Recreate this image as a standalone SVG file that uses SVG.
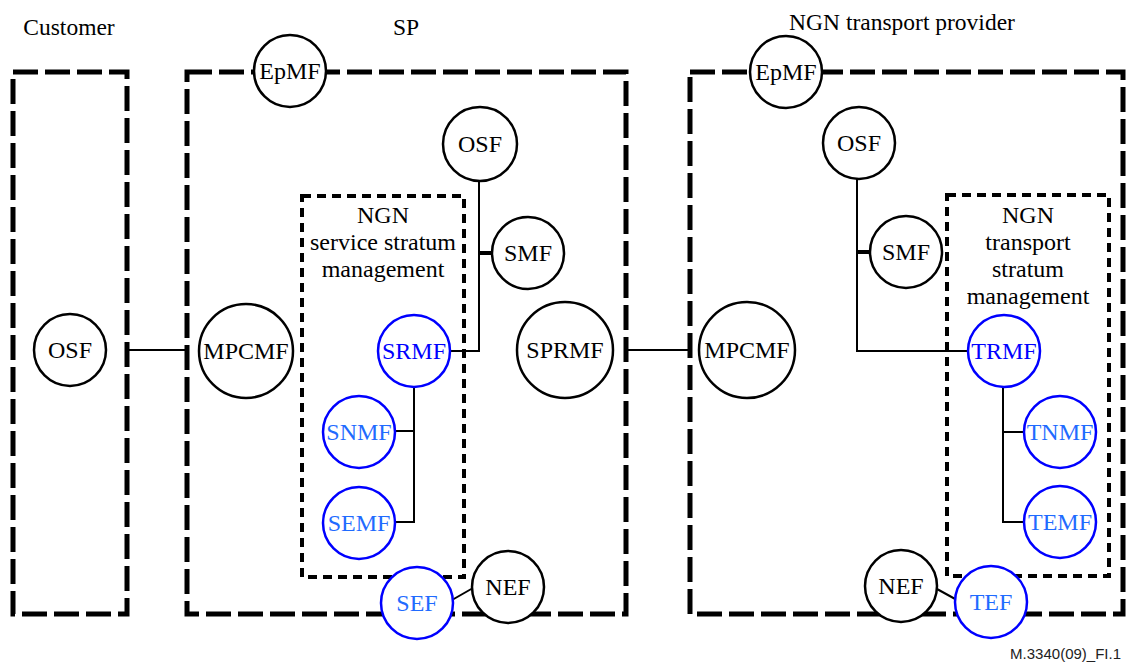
<svg xmlns="http://www.w3.org/2000/svg" width="1128" height="662" viewBox="0 0 1128 662">
  <style>
    .domain { fill: none; stroke: #000; stroke-width: 5; stroke-dasharray: 25 7; }
    .stratum { fill: none; stroke: #000; stroke-width: 4; stroke-dasharray: 9 6; }
    .link { fill: none; stroke: #000; stroke-width: 2; }
    .stub { fill: none; stroke: #000; stroke-width: 4; }
    .fb { fill: #fff; stroke: #000; stroke-width: 2.5; }
    .fbb { fill: #fff; stroke: #0000ff; stroke-width: 2.5; }
    text { font-family: "Liberation Serif", "Times New Roman", serif; font-size: 24px; text-anchor: middle; fill: #000; }
    .dark { fill: #0000ff; }
    .light { fill: #1f6bff; }
    .title { font-size: 23.5px; }
    .ref { font-family: "Liberation Sans", Arial, sans-serif; font-size: 15px; text-anchor: end; fill: #222; }
  </style>

  <!-- titles -->
  <text class="title" x="69" y="35">Customer</text>
  <text class="title" x="406" y="35">SP</text>
  <text class="title" x="902" y="30">NGN transport provider</text>

  <!-- administrative domains -->
  <g id="domains">
    <rect class="domain" x="13" y="72" width="114" height="542"/>
    <rect class="domain" x="187" y="72" width="439" height="542"/>
    <rect class="domain" x="690" y="72" width="433" height="542"/>
  </g>

  <!-- stratum management areas -->
  <g id="service-stratum">
    <rect class="stratum" x="302" y="196" width="162" height="381"/>
    <text x="383" y="223">NGN</text>
    <text x="383" y="250">service stratum</text>
    <text x="383" y="277">management</text>
  </g>
  <g id="transport-stratum">
    <rect class="stratum" x="947" y="195" width="162" height="381"/>
    <text x="1028" y="223">NGN</text>
    <text x="1028" y="250">transport</text>
    <text x="1028" y="277">stratum</text>
    <text x="1028" y="304">management</text>
  </g>

  <!-- connectors -->
  <g id="connectors">
    <line class="link" x1="127" y1="350" x2="187" y2="350"/>
    <line class="link" x1="626" y1="350" x2="690" y2="350"/>
    <!-- SP: OSF - SMF - SRMF -->
    <polyline class="link" points="479,180 479,351 450,351"/>
    <line class="stub" x1="479" y1="253" x2="492" y2="253"/>
    <!-- SP: SRMF - SNMF - SEMF -->
    <polyline class="link" points="414,387 414,522 395,522"/>
    <line class="link" x1="395" y1="431" x2="414" y2="431"/>
    <line class="link" x1="452" y1="600" x2="473" y2="588"/>
    <!-- transport: OSF - SMF - TRMF -->
    <polyline class="link" points="857,179 857,351 968,351"/>
    <line class="stub" x1="857" y1="252" x2="870" y2="252"/>
    <!-- transport: TRMF - TNMF - TEMF -->
    <polyline class="link" points="1003,387 1003,522 1024,522"/>
    <line class="link" x1="1003" y1="432" x2="1024" y2="432"/>
    <line class="link" x1="937" y1="589" x2="957" y2="600"/>
  </g>

  <!-- customer -->
  <g id="cust-osf"><circle class="fb" cx="70" cy="350" r="36"/><text x="70" y="358">OSF</text></g>

  <!-- service provider -->
  <g id="sp-epmf"><circle class="fb" cx="290" cy="71" r="36"/><text x="290" y="79">EpMF</text></g>
  <g id="sp-osf"><circle class="fb" cx="480" cy="144" r="37"/><text x="480" y="152">OSF</text></g>
  <g id="sp-smf"><circle class="fb" cx="528" cy="253" r="36"/><text x="528" y="261">SMF</text></g>
  <g id="sp-mpcmf"><circle class="fb" cx="246" cy="351" r="47"/><text x="246" y="359">MPCMF</text></g>
  <g id="sp-sprmf"><circle class="fb" cx="565" cy="350" r="48"/><text x="565" y="358">SPRMF</text></g>
  <g id="srmf"><circle class="fbb" cx="414" cy="351" r="36"/><text class="dark" x="414" y="359">SRMF</text></g>
  <g id="snmf"><circle class="fbb" cx="359" cy="432" r="36"/><text class="light" x="359" y="440">SNMF</text></g>
  <g id="semf"><circle class="fbb" cx="359" cy="523" r="36"/><text class="light" x="359" y="531">SEMF</text></g>
  <g id="sef"><circle class="fbb" cx="417" cy="603" r="36"/><text class="light" x="417" y="611">SEF</text></g>
  <g id="sp-nef"><circle class="fb" cx="508" cy="587" r="36"/><text x="508" y="595">NEF</text></g>

  <!-- transport provider -->
  <g id="tp-epmf"><circle class="fb" cx="786" cy="72" r="36"/><text x="786" y="80">EpMF</text></g>
  <g id="tp-osf"><circle class="fb" cx="859" cy="143" r="36"/><text x="859" y="151">OSF</text></g>
  <g id="tp-smf"><circle class="fb" cx="906" cy="252" r="36"/><text x="906" y="260">SMF</text></g>
  <g id="tp-mpcmf"><circle class="fb" cx="747" cy="350" r="48"/><text x="747" y="358">MPCMF</text></g>
  <g id="trmf"><circle class="fbb" cx="1004" cy="351" r="36"/><text class="dark" x="1004" y="359">TRMF</text></g>
  <g id="tnmf"><circle class="fbb" cx="1060" cy="432" r="36"/><text class="light" x="1060" y="440">TNMF</text></g>
  <g id="temf"><circle class="fbb" cx="1060" cy="522" r="36"/><text class="light" x="1060" y="530">TEMF</text></g>
  <g id="tp-nef"><circle class="fb" cx="901" cy="586" r="36"/><text x="901" y="594">NEF</text></g>
  <g id="tef"><circle class="fbb" cx="991" cy="602" r="36"/><text class="light" x="991" y="610">TEF</text></g>

  <text class="ref" x="1121" y="659">M.3340(09)_FI.1</text>
</svg>
